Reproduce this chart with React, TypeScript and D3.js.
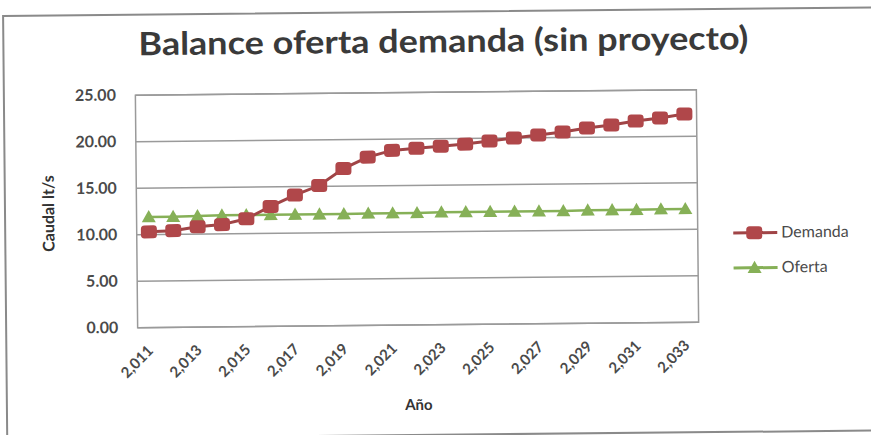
import React from "react";
import * as d3 from "d3";

const years = d3.range(2011, 2034);
const demanda = [10.3, 10.4, 10.8, 11.0, 11.6, 12.9, 14.1, 15.1, 16.9, 18.1, 18.8, 19.0, 19.2, 19.4, 19.7, 20.0, 20.3, 20.6, 21.0, 21.3, 21.7, 22.0, 22.4];
const oferta = [11.9, 11.9, 11.95, 12.0, 12.0, 12.0, 12.0, 12.0, 12.0, 12.05, 12.05, 12.05, 12.1, 12.1, 12.1, 12.1, 12.1, 12.1, 12.15, 12.15, 12.15, 12.2, 12.2];
const yTicks = [0, 5, 10, 15, 20, 25];
const seriesNames = ["Demanda", "Oferta"];

const W = 871, H = 435;
const L = 136.5, R = 697.5, T = 92.5, B = 325;
const RED = "#B0474A";
const RED_LINE = "#A04446";
const GREEN = "#86B057";
const FONT = "Lato, 'Open Sans', sans-serif";
const TXT = "#4a4a4a";

export default function App() {
  const x = d3.scaleBand<number>().domain(years).range([L, R]);
  const cx = (yr: number) => (x(yr) as number) + x.bandwidth() / 2;
  const y = d3.scaleLinear().domain([0, 25]).range([B, T]);
  const line = d3.line<number>().x((_, i) => cx(years[i])).y((v) => y(v));
  const tri = (px: number, py: number, s = 7) => `M${px},${py - s}L${px + s},${py + s * 0.75}L${px - s},${py + s * 0.75}Z`;
  const sq = (px: number, py: number, key: string | number) => (
    <rect key={key} x={px - 8} y={py - 6.5} width={16} height={13} rx={3.5} fill={RED} />
  );
  const fmt = d3.format(",");
  const labelYears = years.filter((_, i) => i % 2 === 0);

  return (
    <svg width={W} height={H} style={{ position: "absolute", left: 0, top: 0, background: "#fff" }}>
      <g transform={`rotate(-0.56, 417, 209)`}>
        <rect x={5} y={12} width={920} height={423} fill="#fff" stroke="#8a8a8a" strokeWidth={2} />
        <text x={445} y={52.5} textAnchor="middle" fontFamily={FONT} fontWeight="bold" fontSize={32} fill="#3a3a3a" textLength={610} lengthAdjust="spacingAndGlyphs">
          Balance oferta demanda (sin proyecto)
        </text>
        {yTicks.map((t) => (
          <g key={t}>
            <line x1={L} x2={R} y1={y(t)} y2={y(t)} stroke="#9a9a9a" strokeWidth={1.5} />
            <text x={117} y={y(t) + 1} textAnchor="end" dominantBaseline="middle" fontFamily={FONT} fontWeight="bold" fontSize={16} fill={TXT}>
              {t.toFixed(2)}
            </text>
          </g>
        ))}
        <rect x={L} y={T} width={R - L} height={B - T} fill="none" stroke="#9a9a9a" strokeWidth={1.5} />
        <text transform={`translate(50, 210) rotate(-90)`} textAnchor="middle" dominantBaseline="middle" fontFamily={FONT} fontWeight="bold" fontSize={16} fill="#333">
          Caudal lt/s
        </text>
        {labelYears.map((yr) => (
          <text key={yr} transform={`translate(${cx(yr) + 4}, ${B + 24}) rotate(-45)`} textAnchor="end" fontFamily={FONT} fontWeight="bold" fontSize={15} fill={TXT}>
            {fmt(yr)}
          </text>
        ))}
        <text x={(L + R) / 2} y={410} textAnchor="middle" fontFamily={FONT} fontWeight="bold" fontSize={15} fill="#333">
          Año
        </text>
        <path d={line(oferta) as string} fill="none" stroke={GREEN} strokeWidth={2.5} />
        {oferta.map((v, i) => (
          <path key={"o" + i} d={tri(cx(years[i]), y(v))} fill={GREEN} />
        ))}
        <path d={line(demanda) as string} fill="none" stroke={RED_LINE} strokeWidth={3} />
        {demanda.map((v, i) => sq(cx(years[i]), y(v), "d" + i))}
        {seriesNames.map((name, i) => {
          const ly = 236 + i * 35;
          return (
            <g key={name}>
              <line x1={733} x2={777} y1={ly} y2={ly} stroke={i === 0 ? RED_LINE : GREEN} strokeWidth={3} />
              {i === 0 ? sq(754, ly, "lg") : <path d={tri(754, ly)} fill={GREEN} />}
              <text x={781} y={ly + 1} dominantBaseline="middle" fontFamily={FONT} fontSize={16} fill={TXT}>
                {name}
              </text>
            </g>
          );
        })}
      </g>
    </svg>
  );
}
